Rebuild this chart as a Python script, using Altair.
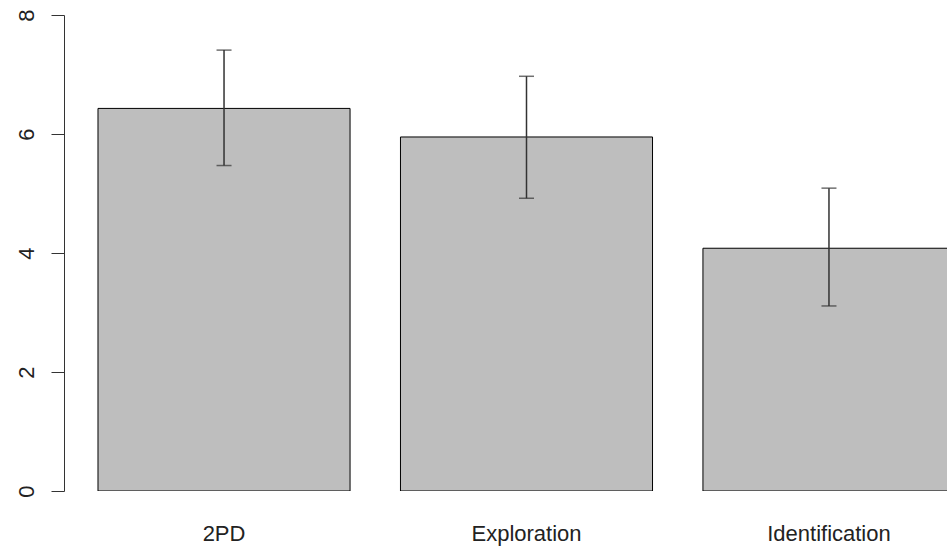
import altair as alt
import pandas as pd

categories = ["2PD", "Exploration", "Identification"]
means = [6.43, 5.95, 4.08]
upper = [7.41, 6.97, 5.09]
lower = [5.47, 4.92, 3.11]

df = pd.DataFrame({"cat": categories, "mean": means, "hi": upper, "lo": lower})

FONT = "Liberation Sans"

xscale = alt.Scale(range=[0, 925], paddingInner=1/6, paddingOuter=0.1124)
yscale = alt.Scale(domain=[0, 8], nice=False, zero=True)

x_enc = alt.X("cat:N", sort=categories, scale=xscale, title=None,
              axis=alt.Axis(domain=False, ticks=False, tickSize=0, labelAngle=0,
                            labelFont=FONT, labelFontSize=22, labelColor="#222222",
                            labelBaseline="alphabetic", labelPadding=49, grid=False))

base = alt.Chart(df)

bars = base.mark_bar(fill="#BEBEBE", stroke="black", strokeWidth=1, clip=True).encode(
    x=x_enc,
    y=alt.Y("mean:Q", scale=yscale, title=None,
            axis=alt.Axis(values=[0, 2, 4, 6, 8], format="d", domainColor="#333333", domainWidth=1,
                          tickColor="#333333", tickSize=13, tickWidth=1,
                          labelAngle=270, labelAlign="center", labelBaseline="alphabetic",
                          labelPadding=18, labelFont=FONT, labelFontSize=22,
                          labelColor="#222222", grid=False)),
)

rules = base.mark_rule(color="#333333", strokeWidth=1.5).encode(
    x=alt.X("cat:N", sort=categories),
    y=alt.Y("lo:Q"),
    y2="hi:Q",
)

caps_hi = base.mark_tick(color="#333333", size=15, thickness=1.5).encode(
    x=alt.X("cat:N", sort=categories), y=alt.Y("hi:Q"))
caps_lo = base.mark_tick(color="#333333", size=15, thickness=1.5).encode(
    x=alt.X("cat:N", sort=categories), y=alt.Y("lo:Q"))

chart = alt.layer(bars, rules, caps_hi, caps_lo).properties(
    width=883, height=476,
    autosize=alt.AutoSizeParams(type="none"),
    padding={"left": 64, "top": 15, "right": 0, "bottom": 55},
    background="white",
).configure_view(strokeWidth=0, stroke="transparent").configure_axis(grid=False)

chart.save("out.html", embed_options={"renderer": "svg", "actions": False})
